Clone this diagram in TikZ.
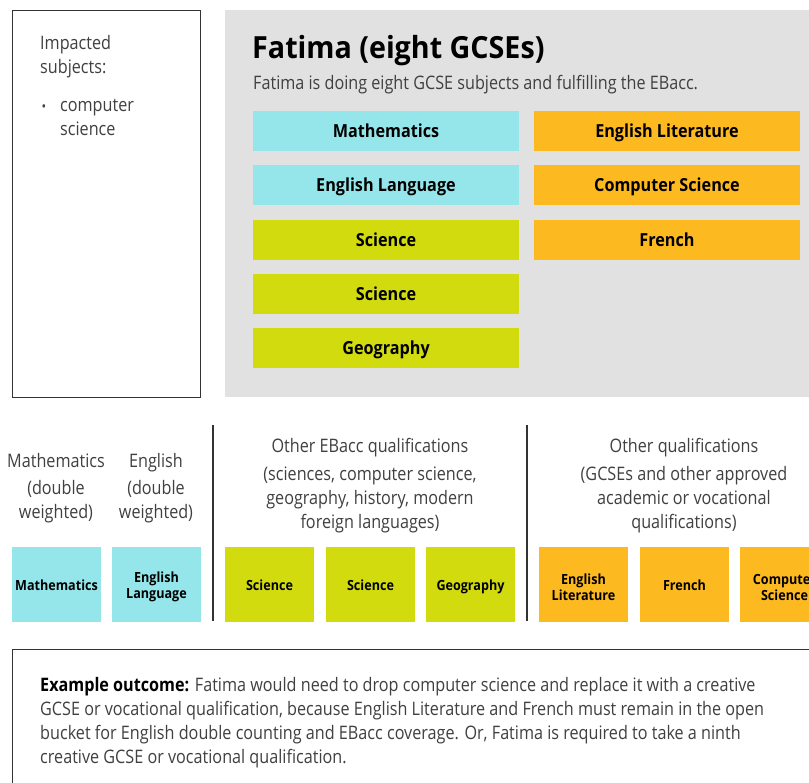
\documentclass[tikz,border=0pt]{standalone}
\usepackage{fontspec}
\setmainfont{Open Sans}[FakeStretch=0.9]
\newfontfamily\bodyfont{Open Sans}[FakeStretch=0.87]
\newfontfamily\titlefont{Open Sans}[FakeStretch=0.94]
\usetikzlibrary{positioning}
\definecolor{panelgray}{HTML}{E0E1E0}
\definecolor{cyanc}{HTML}{95E6EB}
\definecolor{limec}{HTML}{D2DB0E}
\definecolor{orangec}{HTML}{FDB920}
\definecolor{txtgray}{HTML}{404040}
\definecolor{linegray}{HTML}{333333}
\begin{document}
\begin{tikzpicture}[x=1pt,y=-1pt,
  wide/.style={minimum width=266pt,minimum height=40pt,inner sep=0pt,text height=14pt,text depth=1pt,font=\fontsize{18}{20}\selectfont\bfseries,text=black},
  sq/.style={minimum width=89pt,minimum height=75pt,inner sep=0pt,align=center,font=\fontsize{14}{16}\selectfont\bfseries,text=black},
  sqone/.style={sq,text height=12pt,text depth=0pt},
  lt/.style={text=txtgray,font=\bodyfont\fontsize{18.6}{24}\selectfont,inner sep=0pt},
  hdr/.style={lt,align=center,anchor=north},
  divider/.style={draw=linegray,line width=1.2pt}]
\useasboundingbox (0,0) rectangle (809,783);
\clip (0,0) rectangle (809,783);
\fill[white] (0,0) rectangle (809,783);
% left box
\node[draw=linegray,line width=1pt,minimum width=188pt,minimum height=387pt,anchor=north west,inner sep=0pt] (impbox) at (12,10) {};
\node[lt,anchor=base west] (imp1) at (40,50) {Impacted};
\node[lt,anchor=base west] (imp2) at (40,74) {subjects:};
\node[lt,anchor=base west,font=\bodyfont\fontsize{14}{16}\selectfont] (bul) at (41.5,112) {\textbullet};
\node[lt,anchor=base west] (imp3) at (60,112) {computer};
\node[lt,anchor=base west] (imp4) at (60,136) {science};
% panel
\fill[panelgray] (225,10) rectangle (815,397);
\node[anchor=base west,inner sep=0pt,font=\titlefont\fontsize{30.5}{34}\selectfont\bfseries] (title) at (252,59) {Fatima (eight GCSEs)};
\node[lt,anchor=base west] (sub) at (253,90) {Fatima is doing eight GCSE subjects and fulfilling the EBacc.};
\node[wide,fill=cyanc] (t1) at (386,131) {Mathematics};
\node[wide,fill=cyanc] (t2) at (386,185) {English Language};
\node[wide,fill=limec] (t3) at (386,240) {Science};
\node[wide,fill=limec] (t4) at (386,294) {Science};
\node[wide,fill=limec] (t5) at (386,348) {Geography};
\node[wide,fill=orangec] (t6) at (667,131) {English Literature};
\node[wide,fill=orangec] (t7) at (667,185) {Computer Science};
\node[wide,fill=orangec] (t8) at (667,240) {French};
% bottom section headers
\coordinate (d1a) at (213,425); \coordinate (d1b) at (213,621);
\coordinate (d2a) at (527,425); \coordinate (d2b) at (527,621);
\draw[divider] (d1a) -- (d1b);
\draw[divider] (d2a) -- (d2b);
\node[hdr] (h1) at (56,453) {Mathematics\\[3pt](double\\weighted)};
\node[hdr] (h2) at (156,453) {English\\[3pt](double\\weighted)};
\node[hdr] (h3) at (370,438) {Other EBacc qualifications\\[4pt](sciences, computer science,\\geography, history, modern\\foreign languages)};
\node[hdr] (h4) at (684,438) {Other qualifications\\[4pt](GCSEs and other approved\\academic or vocational\\qualifications)};
% squares
\node[sqone,fill=cyanc] (s1) at (56.5,584) {Mathematics};
\node[sq,fill=cyanc] (s2) at (156.5,584) {};
\node[sq,anchor=center] (s2t) at (156.5,587) {English\\Language};
\node[sqone,fill=limec] (s3) at (269.5,584) {Science};
\node[sqone,fill=limec] (s4) at (370.5,584) {Science};
\node[sqone,fill=limec] (s5) at (470.5,584) {Geography};
\node[sq,fill=orangec] (s6) at (583.5,584) {};
\node[sq] (s6t) at (583.5,587) {English\\Literature};
\node[sqone,fill=orangec] (s7) at (684.5,584) {French};
\node[sq,fill=orangec] (s8) at (784.5,584) {};
\node[sq] (s8t) at (784.5,587) {Computer\\Science};
% outcome box
\draw[linegray,line width=1pt] (12,800) -- (12,649) -- (820,649);
\node[lt,anchor=north west,align=left] (outcome) at (40,677) {\textbf{\color{black}Example outcome:} Fatima would need to drop computer science and replace it with a creative\\GCSE or vocational qualification, because English Literature and French must remain in the open\\bucket for English double counting and EBacc coverage. Or, Fatima is required to take a ninth\\creative GCSE or vocational qualification.};
\end{tikzpicture}
\end{document}
